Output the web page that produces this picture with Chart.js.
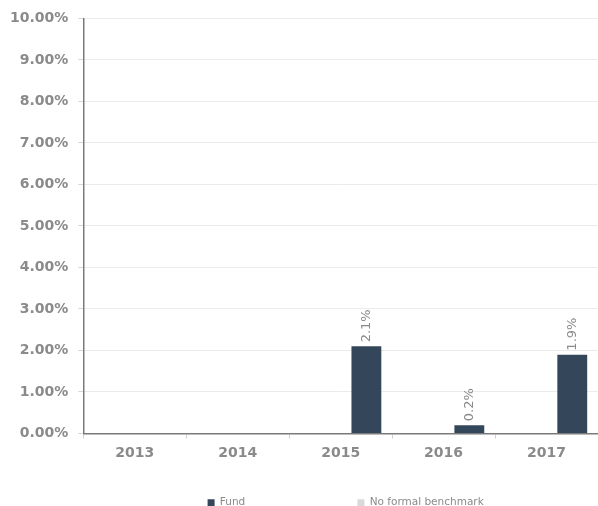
<!DOCTYPE html>
<html>
<head>
<meta charset="utf-8">
<script src="https://cdn.jsdelivr.net/npm/chart.js@4"></script>
<style>
  html, body { margin: 0; padding: 0; background: #fff; overflow: hidden; }
  canvas { display: block; }
</style>
</head>
<body>
<canvas id="returnsChart" width="598" height="506"></canvas>
<script>
const years = ['2013', '2014', '2015', '2016', '2017'];
const fundValues = [null, null, 2.1, 0.2, 1.9];
const benchmarkValues = [null, null, null, null, null];
const yTicks = { min: 0, max: 10, step: 1 };

// draws the rotated value labels above the fund bars
const barLabels = {
  id: 'barLabels',
  afterDatasetsDraw(chart) {
    const ctx = chart.ctx;
    chart.data.datasets.forEach((ds, i) => {
      if (!ds.showValues) return;
      const meta = chart.getDatasetMeta(i);
      meta.data.forEach((bar, j) => {
        const v = ds.data[j];
        if (v == null) return;
        ctx.save();
        ctx.translate(bar.x, bar.y - 4);
        ctx.rotate(-Math.PI / 2);
        ctx.font = '13px "DejaVu Sans"';
        ctx.fillStyle = '#8a8a8a';
        ctx.textAlign = 'left';
        ctx.textBaseline = 'middle';
        ctx.fillText(v.toFixed(1) + '%', 0, 0);
        ctx.restore();
      });
    });
  }
};

// nudge the legend right and down to sit where the original one does
const legendShift = {
  id: 'legendShift',
  afterLayout(chart) {
    const lg = chart.legend;
    if (lg) {
      lg.left += 5;
      lg.right += 5;
      lg.top += 12;
      lg.bottom += 12;
    }
  }
};

const ctx = document.getElementById('returnsChart');
new Chart(ctx, {
  type: 'bar',
  data: {
    labels: years,
    datasets: [{
      label: 'No formal benchmark',
      data: benchmarkValues,
      backgroundColor: '#d9d9d9',
      borderWidth: 0
    }, {
      label: 'Fund',
      data: fundValues,
      backgroundColor: '#34465a',
      borderWidth: 0,
      showValues: true
    }]
  },
  options: {
    responsive: false,
    animation: false,
    layout: { padding: { top: 18, right: 0, left: 0, bottom: 0 } },
    datasets: { bar: { categoryPercentage: 1.0, barPercentage: 0.58 } },
    plugins: {
      tooltip: { enabled: false },
      legend: {
        position: 'bottom',
        reverse: true,
        fullSize: false,
        labels: {
          boxWidth: 7,
          boxHeight: 7,
          padding: 2,
          color: '#8a8a8a',
          font: { family: '"DejaVu Sans"', size: 10.5 },
          // widen the Fund entry so the two entries sit far apart
          generateLabels(chart) {
            const items = Chart.defaults.plugins.legend.labels.generateLabels(chart);
            items.forEach(it => {
              if (it.text === 'Fund') it.text = 'Fund' + '\u00a0'.repeat(33);
            });
            return items;
          }
        }
      }
    },
    scales: {
      x: {
        grid: { display: true, drawOnChartArea: false, offset: true, tickLength: 5, color: '#d0d0d0' },
        border: { color: '#7a7a7a', width: 1.5 },
        ticks: { color: '#8a8a8a', font: { family: '"DejaVu Sans"', size: 14, weight: 'bold' }, padding: 6 },
        afterFit(scale) { scale.height = 50; }
      },
      y: {
        min: yTicks.min,
        max: yTicks.max,
        grid: { color: '#ebebeb', tickLength: 5, tickColor: '#d6d6d6' },
        border: { color: '#7a7a7a', width: 1.5 },
        ticks: {
          stepSize: yTicks.step,
          color: '#8a8a8a',
          font: { family: '"DejaVu Sans"', size: 14, weight: 'bold' },
          padding: 10,
          callback: (v) => v.toFixed(2) + '%'
        }
      }
    }
  },
  plugins: [barLabels, legendShift]
});
</script>
</body>
</html>
